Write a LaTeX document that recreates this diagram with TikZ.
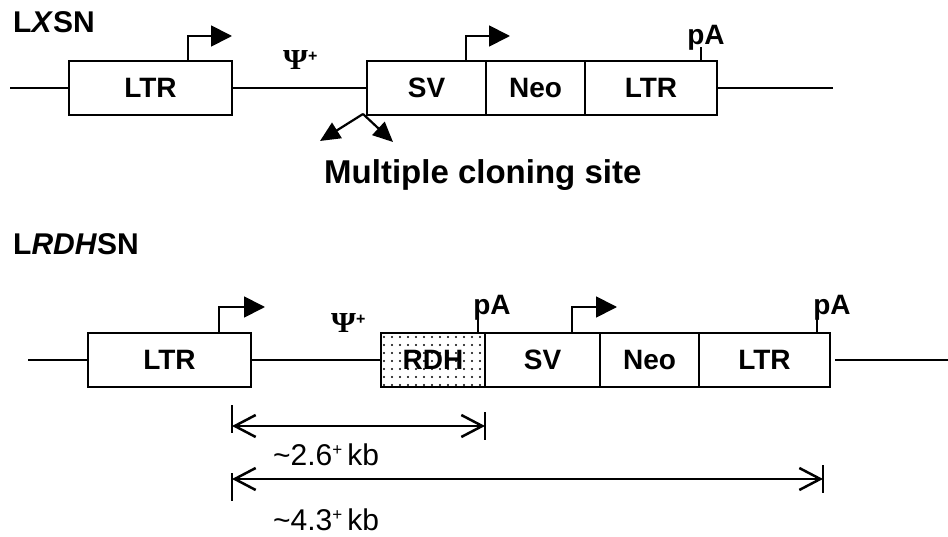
\documentclass[tikz,border=0pt]{standalone}
\usepackage{fontspec}
\setmainfont{Liberation Sans}
\newfontfamily\psifont{Liberation Serif}
\usetikzlibrary{arrows.meta,patterns.meta,calc}
\begin{document}
\begin{tikzpicture}[x=1pt,y=-1pt,
  box/.style={draw, line width=1.8pt, inner sep=0pt, outer sep=0pt, minimum height=54pt,
    font=\fontsize{28}{30}\selectfont\bfseries, anchor=west},
  gline/.style={line width=1.7pt},
  prom/.style={line width=1.8pt, -{Triangle[length=21pt,width=21pt]}},
  mcsarrow/.style={line width=2.2pt, -{Triangle[length=20pt,width=18pt]}},
  dim/.style={line width=2.5pt, {Straight Barb[length=21pt,width=22pt]}-{Straight Barb[length=21pt,width=22pt]}},
  dimbar/.style={line width=2.5pt},
  title/.style={font=\fontsize{30}{32}\selectfont\bfseries, anchor=base west, inner sep=0pt},
  palbl/.style={font=\fontsize{28}{30}\selectfont\bfseries, anchor=base, inner sep=0pt},
  psilbl/.style={anchor=base west, inner sep=0pt},
  dimtext/.style={font=\fontsize{30}{32}\selectfont, anchor=base west, inner sep=0pt}
]
\fill[white] (0,0) rectangle (948,537);
\useasboundingbox (0,0) rectangle (948,537);

% ---------- LXSN ----------
\node[title] (t1) at (13,33) {L\textit{X}SN};
\node[box, minimum width=163pt] (ltrA) at (69,88) {LTR};
\node[box, minimum width=119pt] (svA) at (367,88) {SV};
\node[box, minimum width=99pt] (neoA) at (svA.east) {Neo};
\node[box, minimum width=132pt] (ltrB) at (neoA.east) {LTR};
\coordinate (l1s) at (10,88);
\coordinate (l1e) at (833,88);
\draw[gline] (l1s) -- (ltrA.west);
\draw[gline] (ltrA.east) -- (svA.west);
\draw[gline] (ltrB.east) -- (l1e);
% promoters
\coordinate (p1) at (232,36);
\coordinate (p2) at (510,36);
\draw[prom] ($(ltrA.north west)+(119,0)$) |- (p1);
\draw[prom] ($(svA.north west)+(99,0)$) |- (p2);
% pA
\node[palbl] (pa1) at (706,45) {pA};
\draw[gline] ($(ltrB.north west)+(116,0)$) -- ($(ltrB.north west)+(116,-14)$);
% psi
\node[psilbl] (psi1) at (283,70) {\psifont\bfseries\fontsize{29}{30}\selectfont\scalebox{1.1}[1]{Ψ}\raisebox{8pt}{\rmfamily\bfseries\fontsize{16}{16}\selectfont +}};
% multiple cloning site
\coordinate (mcs) at (363,114);
\coordinate (mcsL) at (320,141);
\coordinate (mcsR) at (393,142);
\draw[mcsarrow] (mcs) -- (mcsL);
\draw[mcsarrow] (mcs) -- (mcsR);
\node[font=\fontsize{33}{35}\selectfont\bfseries, anchor=base west, inner sep=0pt] (mcst) at (324,184) {Multiple cloning site};

% ---------- LRDHSN ----------
\node[title] (t2) at (13,255) {L\textit{RDH}SN};
\node[box, minimum width=163pt] (ltrC) at (88,360) {LTR};
\node[box, minimum width=104pt, pattern={Dots[distance=8pt,radius=1.1pt]}] (rdh) at (381,360) {RDH};
\node[box, minimum width=115pt] (svB) at (rdh.east) {SV};
\node[box, minimum width=99pt] (neoB) at (svB.east) {Neo};
\node[box, minimum width=131pt] (ltrD) at (neoB.east) {LTR};
\coordinate (l2s) at (28,360);
\coordinate (l2e) at (948,360);
\draw[gline] (l2s) -- (ltrC.west);
\draw[gline] (ltrC.east) -- (rdh.west);
\draw[gline] ($(ltrD.east)+(5,0)$) -- (l2e);
% promoters
\coordinate (p3) at (265,307);
\coordinate (p4) at (617,307);
\draw[prom] ($(ltrC.north west)+(131,0)$) |- (p3);
\draw[prom] ($(svB.north west)+(87,0)$) |- (p4);
% pA
\node[palbl] (pa2) at (492,315) {pA};
\node[palbl] (pa3) at (832,315) {pA};
\draw[gline] ($(rdh.north west)+(97,0)$) -- ($(rdh.north west)+(97,-15)$);
\draw[gline] ($(ltrD.north west)+(118,0)$) -- ($(ltrD.north west)+(118,-15)$);
% psi
\node[psilbl] (psi2) at (331,333) {\psifont\bfseries\fontsize{29}{30}\selectfont\scalebox{1.1}[1]{Ψ}\raisebox{8pt}{\rmfamily\bfseries\fontsize{16}{16}\selectfont +}};

% ---------- dimensions ----------
\coordinate (d1l) at (232,426);
\coordinate (d1r) at (485,426);
\coordinate (d2l) at (232,479);
\coordinate (d2r) at (823,479);
\draw[dim] (d1l) -- (d1r);
\draw[dim] (d2l) -- (d2r);
\draw[dimbar] ($(d1l)+(0,-21)$) -- ($(d1l)+(0,7)$);
\draw[dimbar] ($(d1r)+(0,-14)$) -- ($(d1r)+(0,14)$);
\draw[dimbar] ($(d2l)+(0,-6)$) -- ($(d2l)+(0,22)$);
\draw[dimbar] ($(d2r)+(0,-14)$) -- ($(d2r)+(0,14)$);
\node[dimtext] (k1) at (273,465) {\textasciitilde2.6\raisebox{10pt}{\fontsize{17}{17}\selectfont +}\hspace{5pt}kb};
\node[dimtext] (k2) at (273,530) {\textasciitilde4.3\raisebox{10pt}{\fontsize{17}{17}\selectfont +}\hspace{5pt}kb};
\end{tikzpicture}
\end{document}
